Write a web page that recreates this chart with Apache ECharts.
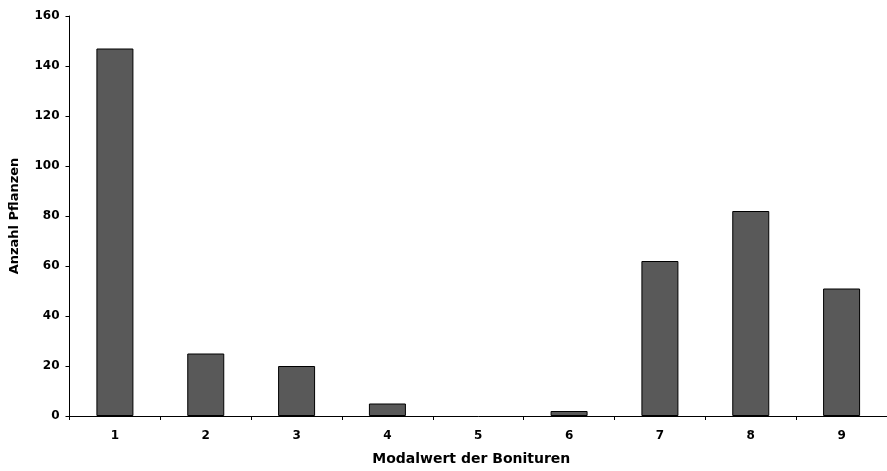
<!DOCTYPE html>
<html><head><meta charset="utf-8">
<script src="https://cdn.jsdelivr.net/npm/echarts@6/dist/echarts.min.js"></script>
<style>html,body{margin:0;padding:0;background:#fff}#c{width:887px;height:471px}</style>
</head><body><div id="c"></div>
<script>
var categories = ['1','2','3','4','5','6','7','8','9'];
var counts = [147, 25, 20, 5, 0, 2, 62, 82, 51];
var yTicks = [0, 20, 40, 60, 80, 100, 120, 140, 160];

var chart = echarts.init(document.getElementById('c'), null, {renderer:'canvas'});
var font = 'DejaVu Sans, sans-serif';
var barData = counts.map(function (v) {
  return v === 0 ? {value: v, itemStyle: {borderWidth: 0, opacity: 0}} : v;
});
chart.setOption({
  animation: false,
  backgroundColor: '#fff',
  grid: {left: 69.5, top: 16, width: 823.3, height: 406, containLabel: false},
  xAxis: {
    type: 'category', data: categories,
    name: 'Modalwert der Bonituren', nameLocation: 'middle', nameGap: 36,
    nameTextStyle: {fontFamily: font, fontWeight: 'bold', fontSize: 14, color: '#000', padding: [0, 14, 0, 0]},
    axisLine: {lineStyle: {color: '#000', width: 1}},
    axisTick: {show: true, length: 4, lineStyle: {color: '#000'}},
    axisLabel: {fontFamily: font, fontWeight: 'bold', fontSize: 12, color: '#000', margin: 14},
    splitLine: {show: false}
  },
  yAxis: {
    type: 'value', min: yTicks[0], max: yTicks[yTicks.length-1], interval: 20,
    name: 'Anzahl Pflanzen', nameLocation: 'middle', nameGap: 48, nameRotate: 90,
    nameTextStyle: {fontFamily: font, fontWeight: 'bold', fontSize: 13, color: '#000'},
    axisLine: {show: true, lineStyle: {color: '#000', width: 1}},
    axisTick: {show: true, length: 4, lineStyle: {color: '#000'}},
    axisLabel: {fontFamily: font, fontWeight: 'bold', fontSize: 12, color: '#000', margin: 10},
    splitLine: {show: false}
  },
  series: [{
    type: 'bar', data: barData, barWidth: 37,
    itemStyle: {color: '#595959', borderColor: '#000', borderWidth: 1}
  }]
});
</script></body></html>
